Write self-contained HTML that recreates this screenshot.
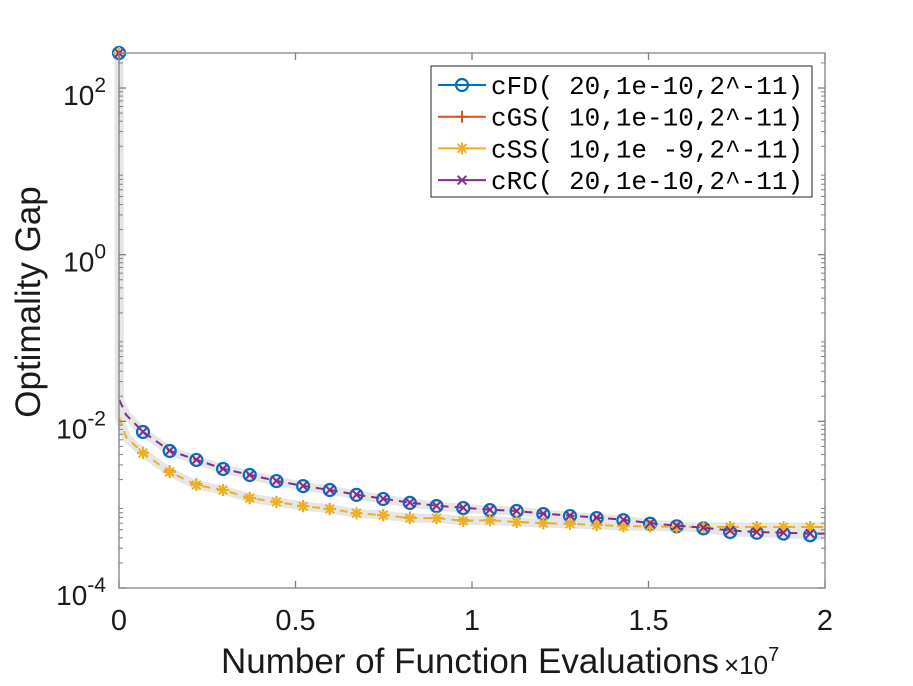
<!DOCTYPE html>
<html><head><meta charset="utf-8"><style>
body{margin:0;background:#fff;}
svg{display:block;font-family:"Liberation Sans",Helvetica,sans-serif;}
</style></head><body>
<svg id="chart" width="913" height="686" viewBox="0 0 913 686" xmlns="http://www.w3.org/2000/svg">
<rect x="0" y="0" width="913" height="686" fill="#fff"/>
<g id="under"></g>
<g id="bands"></g>
<g id="series"></g>
<g id="axes"></g>
<text x="470" y="673" font-size="35" text-anchor="middle" fill="#1a1a1a">Number of Function Evaluations</text>
<text x="724" y="674" font-size="26" fill="#1a1a1a">×10<tspan dy="-13" font-size="20">7</tspan></text>
<text transform="translate(40,302) rotate(-90)" font-size="35" text-anchor="middle" fill="#1a1a1a">Optimality Gap</text>
<g>
<rect x="431" y="66" width="381" height="131" fill="#fff" stroke="#262626" stroke-width="1"/>
<g id="legend-items"></g>
</g>
</svg>
<script>
const xMarks = [0,0.068,0.1436,0.2192,0.2948,0.3704,0.446,0.5216,0.5972,0.6728,0.7484,0.824,0.8996,0.9752,1.0508,1.1264,1.202,1.2776,1.3532,1.4288,1.5044,1.58,1.6556,1.7312,1.8068,1.8824,1.958];
const cFD = [263,0.00745,0.00441,0.00344,0.00268,0.00227,0.00192,0.00167,0.0015,0.00131,0.00117,0.00105,0.00096,0.00091,0.00086,0.00084,0.00077,0.00073,0.00069,0.00065,0.00059,0.00055,0.00052,0.00047,0.00046,0.00045,0.00043];
const cRC = [263,0.0075,0.00445,0.00346,0.0027,0.00228,0.00193,0.00168,0.0015,0.00132,0.00118,0.00106,0.00097,0.00092,0.00087,0.00084,0.00078,0.00074,0.0007,0.00066,0.0006,0.00056,0.00053,0.00049,0.00047,0.00046,0.00045];
const cGS = [263,0.0042,0.0025,0.00175,0.0015,0.0012,0.00108,0.00096,0.00089,0.00079,0.00075,0.0007,0.00069,0.00065,0.00065,0.00062,0.0006,0.00059,0.00057,0.00056,0.00055,0.00054,0.00054,0.00054,0.00054,0.00054,0.00054];
const cSS = [263,0.00417,0.00247,0.00172,0.0015,0.0012,0.00108,0.00096,0.00089,0.00079,0.00075,0.00069,0.00069,0.00064,0.00065,0.00062,0.0006,0.00059,0.00057,0.00055,0.00055,0.00054,0.00054,0.00054,0.00054,0.00054,0.00054];
const startValsCirc = [0.018, 0.012];
const startValsStar = [0.011, 0.0065];
const xTicks = [0,0.5,1,1.5,2];
const xTickLabels = ["0","0.5","1","1.5","2"];
const yTickExp = [-4,-2,0,2];

const L=119,R=825,T=53,B=588;
const X=v=>L+(v-0)/(2-0)*(R-L);
const Y=v=>B-(Math.log10(v)+4)*83.33;
const NS="http://www.w3.org/2000/svg";
function mk(tag,attrs,parent){const e=document.createElementNS(NS,tag);for(const k in attrs)e.setAttribute(k,attrs[k]);parent.appendChild(e);return e;}
const axes=document.getElementById('axes');
mk('path',{d:`M${L},${T}H${R}V${B}H${L}Z`,fill:'none',stroke:'#808080','stroke-width':1.3},axes);
xTicks.forEach((t,i)=>{
  const x=X(t);
  mk('line',{x1:x,x2:x,y1:B,y2:B-7,stroke:'#808080','stroke-width':1.3},axes);
  mk('line',{x1:x,x2:x,y1:T,y2:T+7,stroke:'#808080','stroke-width':1.3},axes);
  const tx=mk('text',{x:x,y:630,'font-size':29,'text-anchor':'middle',fill:'#1a1a1a'},axes);
  tx.textContent=xTickLabels[i];
  
  
});
for(let e=-4;e<=2;e++){
  const y=Y(Math.pow(10,e));
  if(yTickExp.includes(e)){
    mk('line',{x1:L,x2:L+7,y1:y,y2:y,stroke:'#808080','stroke-width':1.3},axes);
    mk('line',{x1:R,x2:R-7,y1:y,y2:y,stroke:'#808080','stroke-width':1.3},axes);
    const tx=mk('text',{x:106,y:y+17,'font-size':28,'text-anchor':'end',fill:'#1a1a1a'},axes);
    tx.textContent='10';
    const sp=mk('tspan',{dy:-13,'font-size':21},tx);sp.textContent=String(e);
    
    
  }
  for(let m=2;m<=9;m++){
    const v=m*Math.pow(10,e);const yy=Y(v);
    if(yy<T)continue;
    mk('line',{x1:L,x2:L+4,y1:yy,y2:yy,stroke:'#808080','stroke-width':1},axes);
    mk('line',{x1:R,x2:R-4,y1:yy,y2:yy,stroke:'#808080','stroke-width':1},axes);
  }
}
const bands=document.getElementById('bands');
const under=document.getElementById('under');
const ser=document.getElementById('series');
function pathFor(vals,starts,withTop){
  let d=withTop?`M${X(xMarks[0])},${Y(vals[0])}L${X(0.001)},${Y(starts[0])}`:`M${X(0.001)},${Y(starts[0])}`;
  d+=`L${X(0.02)},${Y(starts[1])}`;
  for(let i=1;i<xMarks.length;i++)d+=`L${X(xMarks[i])},${Y(vals[i])}`;
  d+=`L${X(2)},${Y(vals[vals.length-1])}`;
  return d;
}
[[cFD,startValsCirc],[cSS,startValsStar]].forEach(([v,s])=>{
  const p=mk('path',{d:pathFor(v,s,true),fill:'none',stroke:'#e6e6e6','stroke-width':9,'stroke-linejoin':'round'},bands);
  
  
});
const defs=[
 {name:'cFD',vals:cFD,st:startValsCirc,c:'#0072BD',dash:'',mark:'o',label:'cFD( 20,1e-10,2^-11)'},
 {name:'cGS',vals:cGS,st:startValsStar,c:'#D95319',dash:'',mark:'+',label:'cGS( 10,1e-10,2^-11)'},
 {name:'cSS',vals:cSS,st:startValsStar,c:'#EDB120',dash:'8,6',mark:'*',label:'cSS( 10,1e -9,2^-11)'},
 {name:'cRC',vals:cRC,st:startValsCirc,c:'#7E2F8E',dash:'8,6',mark:'x',label:'cRC( 20,1e-10,2^-11)'}
];
function marker(type,x,y,c,g){
  const r=6;
  if(type==='o')mk('circle',{cx:x,cy:y,r:r,fill:'none',stroke:c,'stroke-width':2.2},g);
  if(type==='+'||type==='*'){mk('path',{d:`M${x-r},${y}H${x+r}M${x},${y-r}V${y+r}`,stroke:c,'stroke-width':2},g);}
  if(type==='x'||type==='*'){const q=r*0.72;mk('path',{d:`M${x-q},${y-q}L${x+q},${y+q}M${x-q},${y+q}L${x+q},${y-q}`,stroke:c,'stroke-width':2},g);}
}
defs.forEach(s=>{
  const parent=s.dash?ser:under;
  const g=mk('g',{},parent);
  
  
  const a={d:pathFor(s.vals,s.st,false),fill:'none',stroke:s.c,'stroke-width':2};
  if(s.dash)a['stroke-dasharray']=s.dash;
  mk('path',a,g);
  const mg=mk('g',{},ser);
  s.vals.forEach((v,i)=>marker(s.mark,X(xMarks[i]),Y(v),s.c,mg));
});
const li=document.getElementById('legend-items');
defs.forEach((s,i)=>{
  const y=85+i*31.7;
  const g=mk('g',{},li);
  
  
  mk('line',{x1:438,x2:486,y1:y,y2:y,stroke:s.c,'stroke-width':2},g);
  marker(s.mark,462,y,s.c,g);
  const t=mk('text',{x:491,y:y+9,'font-size':26,'font-family':'"Liberation Mono",monospace',fill:'#000'},g);
  t.style.whiteSpace='pre';
  t.textContent=s.label;
});
</script>
</body></html>
